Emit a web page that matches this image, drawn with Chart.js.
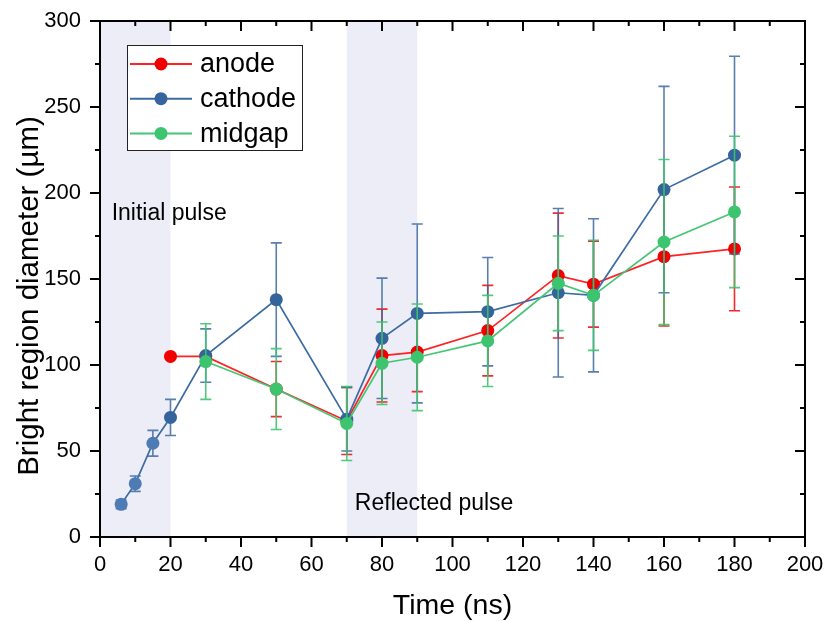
<!DOCTYPE html>
<html>
<head>
<meta charset="utf-8">
<script src="https://cdn.jsdelivr.net/npm/chart.js@4/dist/chart.umd.min.js"></script>
<style>
  html, body { margin: 0; padding: 0; background: #ffffff; }
  #wrap { width: 827px; height: 621px; }
</style>
</head>
<body>
<div id="wrap"><canvas id="chart" width="827" height="621"></canvas></div>
<script>
// Bright region diameter (µm) against time (ns), mean ± error for each gap location
const anodeTime       = [20, 30, 50, 70, 80, 90, 110, 130, 140, 160, 180];
const anodeDiameter   = [105, 105, 86, 67.5, 105.5, 107.5, 120, 152, 147, 163, 167.5];
const anodeError      = [0, 0, 16, 19.5, 27, 23, 26.3, 36.3, 25, 40.3, 36];

const cathodeTime     = [6, 10, 15, 20, 30, 50, 70, 80, 90, 110, 130, 140, 160, 180];
const cathodeDiameter = [19, 31, 54.5, 69.5, 105.5, 138, 68.5, 115.5, 130, 131, 142, 140.5, 202, 222];
const cathodeError    = [2.5, 4.5, 7.5, 10.5, 15.5, 33, 18.5, 35, 52, 31.5, 49, 44.5, 60, 57.5];

const midgapTime      = [30, 50, 70, 80, 90, 110, 130, 140, 160, 180];
const midgapDiameter  = [102, 86, 66, 101, 104.5, 114, 147.5, 140.5, 171.5, 189];
const midgapError     = [22, 23.5, 21.5, 24, 31, 26.5, 27.5, 32, 48, 44];

// Pulse windows (ns) and their captions
const pulseStart  = [0, 70];
const pulseEnd    = [20, 90];
const pulseLabels = ['Initial pulse', 'Reflected pulse'];

const xTickValues = [0, 20, 40, 60, 80, 100, 120, 140, 160, 180, 200];
const yTickValues = [0, 50, 100, 150, 200, 250, 300];

const xTitle = 'Time (ns)';
const yTitle = 'Bright region diameter (µm)';

const FONT = '"Liberation Sans", Arial, Helvetica, sans-serif';

const RED   = '#F20000';
const BLUE  = '#35659C';
const GREEN = '#3DC46F';

function points(xs, ys) {
  return xs.map((x, i) => ({ x: x, y: ys[i] }));
}

// keep tick-label overhang from shrinking the plot area
function noOverhang(s) {
  s.paddingLeft = 0; s.paddingRight = 0; s.paddingTop = 0; s.paddingBottom = 0;
}

const errorsByDataset = [anodeError, cathodeError, midgapError];
const errorColors = ['rgba(240,20,20,0.9)', 'rgba(60,105,160,0.85)', 'rgba(61,196,111,0.9)'];

const decor = {
  id: 'decor',
  beforeDatasetsDraw(chart) {
    const { ctx, chartArea: ca, scales: { x } } = chart;
    ctx.save();
    ctx.fillStyle = '#ECEDF6';
    pulseStart.forEach((s, i) => {
      const x0 = x.getPixelForValue(s);
      const x1 = x.getPixelForValue(pulseEnd[i]);
      ctx.fillRect(x0, ca.top, x1 - x0, ca.bottom - ca.top);
    });
    ctx.restore();
  },
  beforeDatasetDraw(chart, args) {
    const { ctx, scales: { y } } = chart;
    const i = args.index;
    const errs = errorsByDataset[i];
    const ds = chart.data.datasets[i];
    const meta = chart.getDatasetMeta(i);
    ctx.save();
    ctx.strokeStyle = errorColors[i];
    ctx.lineWidth = 1.6;
    meta.data.forEach((el, j) => {
      const e = errs[j];
      if (!e) return;
      const v = ds.data[j].y;
      const yt = y.getPixelForValue(v + e);
      const yb = y.getPixelForValue(v - e);
      ctx.beginPath();
      ctx.moveTo(el.x, yt); ctx.lineTo(el.x, yb);
      ctx.moveTo(el.x - 5.5, yt); ctx.lineTo(el.x + 5.5, yt);
      ctx.moveTo(el.x - 5.5, yb); ctx.lineTo(el.x + 5.5, yb);
      ctx.stroke();
    });
    ctx.restore();
  },
  afterDatasetsDraw(chart) {
    const { ctx, chartArea: ca, scales: { x, y } } = chart;
    ctx.save();

    // pulse captions
    ctx.fillStyle = '#000';
    ctx.font = '23px ' + FONT;
    ctx.textAlign = 'left';
    ctx.textBaseline = 'middle';
    ctx.fillText(pulseLabels[0], x.getPixelForValue(3.3), y.getPixelForValue(188));
    ctx.fillText(pulseLabels[1], x.getPixelForValue(72.3), y.getPixelForValue(19.5));

    // vertical axis title
    ctx.save();
    ctx.translate(ca.left - 70, (ca.top + ca.bottom) / 2 + 17);
    ctx.rotate(-Math.PI / 2);
    ctx.font = '29.5px ' + FONT;
    ctx.textAlign = 'center';
    ctx.textBaseline = 'middle';
    ctx.fillText(yTitle, 0, 0);
    ctx.restore();

    // frame
    ctx.strokeStyle = '#000';
    ctx.lineWidth = 2;
    ctx.strokeRect(ca.left, ca.top, ca.right - ca.left, ca.bottom - ca.top);

    // ticks: outward on bottom/left, inward on top/right
    ctx.beginPath();
    for (let v = 0; v <= 200; v += 10) {
      const px = x.getPixelForValue(v);
      const len = v % 20 === 0 ? 10 : 5;
      ctx.moveTo(px, ca.bottom); ctx.lineTo(px, ca.bottom + len);
      ctx.moveTo(px, ca.top); ctx.lineTo(px, ca.top + len);
    }
    for (let v = 0; v <= 300; v += 25) {
      const py = y.getPixelForValue(v);
      const len = v % 50 === 0 ? 10 : 5;
      ctx.moveTo(ca.left, py); ctx.lineTo(ca.left - len, py);
      ctx.moveTo(ca.right, py); ctx.lineTo(ca.right - len, py);
    }
    ctx.stroke();

    // legend
    const bx = ca.left + 27, by = ca.top + 24, bw = 175, bh = 105;
    ctx.fillStyle = '#fff';
    ctx.fillRect(bx, by, bw, bh);
    ctx.lineWidth = 1;
    ctx.strokeStyle = '#222';
    ctx.strokeRect(bx + 0.5, by + 0.5, bw, bh);
    ctx.font = '27px ' + FONT;
    ctx.textBaseline = 'middle';
    chart.data.datasets.forEach((ds, i) => {
      const ry = by + 19 + i * 34.7;
      ctx.strokeStyle = ds.borderColor;
      ctx.lineWidth = 2;
      ctx.beginPath();
      ctx.moveTo(bx + 3, ry); ctx.lineTo(bx + 65, ry);
      ctx.stroke();
      ctx.fillStyle = ds.legendPoint;
      ctx.beginPath();
      ctx.arc(bx + 34, ry, 6.5, 0, Math.PI * 2);
      ctx.fill();
      ctx.fillStyle = '#000';
      ctx.fillText(ds.label, bx + 73, ry + 1);
    });
    ctx.restore();
  }
};

const cathodePointColors = cathodeTime.map(t => (t < 20 ? '#4E7BB3' : '#35649B'));

new Chart(document.getElementById('chart'), {
  type: 'line',
  data: {
    datasets: [
      {
        label: 'anode',
        data: points(anodeTime, anodeDiameter),
        borderColor: '#FF2222',
        backgroundColor: RED,
        pointBackgroundColor: RED,
        legendPoint: RED,
        borderWidth: 1.7,
        pointRadius: 6.5,
        pointBorderWidth: 0,
        tension: 0,
        order: 3
      },
      {
        label: 'cathode',
        data: points(cathodeTime, cathodeDiameter),
        borderColor: '#3D6BA3',
        backgroundColor: BLUE,
        pointBackgroundColor: cathodePointColors,
        legendPoint: BLUE,
        borderWidth: 1.7,
        pointRadius: 6.5,
        pointBorderWidth: 0,
        tension: 0,
        order: 2
      },
      {
        label: 'midgap',
        data: points(midgapTime, midgapDiameter),
        borderColor: '#45C676',
        backgroundColor: GREEN,
        pointBackgroundColor: GREEN,
        legendPoint: GREEN,
        borderWidth: 1.7,
        pointRadius: 6.5,
        pointBorderWidth: 0,
        tension: 0,
        order: 1
      }
    ]
  },
  options: {
    responsive: false,
    animation: false,
    devicePixelRatio: 1,
    layout: { padding: { top: 21, right: 22, left: 0, bottom: 0 } },
    plugins: { legend: { display: false }, tooltip: { enabled: false } },
    scales: {
      x: {
        type: 'linear',
        min: 0,
        max: 200,
        afterFit(s) { s.height = 84; noOverhang(s); },
        afterBuildTicks(s) { s.ticks = xTickValues.map(v => ({ value: v })); },
        grid: { display: false, drawTicks: false },
        border: { display: false },
        ticks: { color: '#000', font: { family: FONT, size: 22 }, padding: 15, maxRotation: 0 },
        title: { display: true, text: xTitle, color: '#000', font: { family: FONT, size: 28.5 }, padding: { top: 0, bottom: -2 } }
      },
      y: {
        type: 'linear',
        min: 0,
        max: 300,
        afterFit(s) { s.width = 100; noOverhang(s); },
        afterBuildTicks(s) { s.ticks = yTickValues.map(v => ({ value: v })); },
        grid: { display: false, drawTicks: false },
        border: { display: false },
        ticks: { color: '#000', font: { family: FONT, size: 22 }, padding: 19 },
        title: { display: false }
      }
    }
  },
  plugins: [decor]
});
</script>
</body>
</html>
